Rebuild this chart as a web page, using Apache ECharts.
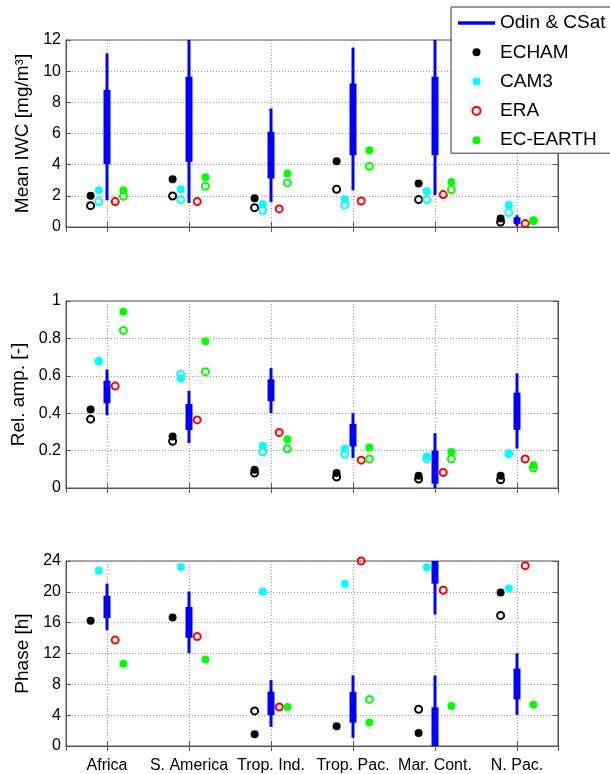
<!DOCTYPE html>
<html>
<head>
<meta charset="utf-8">
<script src="https://cdn.jsdelivr.net/npm/echarts@6/dist/echarts.min.js"></script>
<style>
  html, body { margin: 0; padding: 0; background: #fff; }
  #chart { width: 610px; height: 774px; }
</style>
</head>
<body>
<div id="chart"></div>
<script>
// regions along the x axis
var categories = ['Africa', 'S. America', 'Trop. Ind.', 'Trop. Pac.', 'Mar. Cont.', 'N. Pac.']

// y tick labels of the three panels
var iwcTicks = [0, 2, 4, 6, 8, 10, 12]
var ampTicks = [0, 0.2, 0.4, 0.6, 0.8, 1]
var phaseTicks = [0, 4, 8, 12, 16, 20, 24]

// Odin & CSat: [outer low, outer high, inner low, inner high] per region
var iwcObs = [[1.71, 11.14, 4.03, 8.79], [1.54, 12.6, 4.18, 9.64], [1.61, 7.61, 3.11, 6.11],
              [2.36, 11.51, 4.61, 9.21], [2.04, 12.6, 4.61, 9.64], [0.06, 0.75, 0.2, 0.62]]
var ampObs = [[0.389, 0.634, 0.453, 0.574], [0.24, 0.52, 0.31, 0.449], [0.4, 0.641, 0.464, 0.581],
              [0.16, 0.4, 0.222, 0.343], [0, 0.293, 0.023, 0.2], [0.211, 0.613, 0.311, 0.51]]
// phase wraps round 24 h: low > high means the range passes midnight
var phaseObs = [[15.02, 21.06, 16.6, 19.49], [12.04, 20.04, 14.04, 18.04], [2.47, 8.55, 4.0, 7.06],
                [1.06, 9.15, 3.02, 7.02], [17.06, 9.15, 21.06, 5.02], [4.04, 12.04, 6.04, 10.04]]

// mean IWC
var iwcEcham = [2.0, 3.06, 1.84, 4.22, 2.79, 0.54]
var iwcEchamOpen = [1.37, 1.99, 1.24, 2.42, 1.76, 0.32]
var iwcCam = [2.36, 2.42, 1.46, 1.78, 2.31, 1.41]
var iwcCamOpen = [1.63, 1.76, 1.07, 1.41, 1.76, 0.93]
var iwcEra = [1.63, 1.63, 1.16, 1.67, 2.08, 0.22]
var iwcEcEarth = [2.36, 3.19, 3.43, 4.93, 2.89, 0.41]
var iwcEcEarthOpen = [1.97, 2.61, 2.83, 3.9, 2.4, 0.4]

// relative amplitude
var ampEcham = [0.42, 0.275, 0.098, 0.08, 0.066, 0.066]
var ampEchamOpen = [0.368, 0.25, 0.08, 0.059, 0.048, 0.044]
var ampCam = [0.678, 0.585, 0.226, 0.21, 0.169, 0.183]
var ampCamOpen = [0.678, 0.607, 0.194, 0.18, 0.156, 0.183]
var ampEra = [0.545, 0.364, 0.297, 0.149, 0.083, 0.155]
var ampEcEarth = [0.943, 0.785, 0.261, 0.217, 0.192, 0.123]
var ampEcEarthOpen = [0.842, 0.622, 0.21, 0.155, 0.156, 0.107]

// phase
var phaseEcham = [16.26, 16.68, 1.53, 2.55, 1.7, 19.91]
var phaseEchamOpen = [null, null, 4.55, null, 4.77, 16.94]
var phaseCam = [22.72, 23.23, 20.04, 21.06, 23.19, 20.43]
var phaseCamOpen = [null, null, null, null, null, null]
var phaseEra = [13.74, 14.21, 5.06, 24.0, 20.21, 23.4]
var phaseEcEarth = [10.68, 11.23, 5.06, 3.06, 5.19, 5.36]
var phaseEcEarthOpen = [null, null, null, 6.04, null, null]

var FONT = 'Liberation Sans, Arial, Helvetica, sans-serif'
var AXIS_COLOR = '#555'

var panels = [
    { name: 'Mean IWC [mg/m³]', ticks: iwcTicks, obs: iwcObs,
      models: [iwcEcham, iwcEchamOpen, iwcCam, iwcCamOpen, iwcEra, iwcEcEarth, iwcEcEarthOpen],
      top: 40, height: 187 },
    { name: 'Rel. amp. [-]', ticks: ampTicks, obs: ampObs,
      models: [ampEcham, ampEchamOpen, ampCam, ampCamOpen, ampEra, ampEcEarth, ampEcEarthOpen],
      top: 301, height: 187 },
    { name: 'Phase [h]', ticks: phaseTicks, obs: phaseObs,
      models: [phaseEcham, phaseEchamOpen, phaseCam, phaseCamOpen, phaseEra, phaseEcEarth, phaseEcEarthOpen],
      top: 561, height: 188 }
]

// how each model array is drawn: name, colour, filled or open, x shift from the region
var modelStyles = [
    { name: 'ECHAM', color: '#000000', open: false, shift: -0.2 },
    { name: 'ECHAM (open)', color: '#000000', open: true, shift: -0.2 },
    { name: 'CAM3', color: '#00ffff', open: false, shift: -0.1 },
    { name: 'CAM3 (open)', color: '#00ffff', open: true, shift: -0.1 },
    { name: 'ERA', color: '#ff0000', open: true, shift: 0.1 },
    { name: 'EC-EARTH', color: '#00ff00', open: false, shift: 0.2 },
    { name: 'EC-EARTH (open)', color: '#00ff00', open: true, shift: 0.2 }
]

function makeRenderObs(lowEnd, highEnd) {
    return function (params, api) {
        var x = api.value(0)
        var parts = [[api.value(1), api.value(2), 3], [api.value(3), api.value(4), 7]]
        var children = []
        parts.forEach(function (p) {
            var segs = p[0] <= p[1] ? [[p[0], p[1]]] : [[p[0], highEnd], [lowEnd, p[1]]]
            segs.forEach(function (s) {
                var a = api.coord([x, s[1]])
                var b = api.coord([x, s[0]])
                children.push({
                    type: 'rect',
                    shape: { x: a[0] - p[2] / 2, y: a[1], width: p[2], height: b[1] - a[1] },
                    style: { fill: '#0000ff' }
                })
            })
        })
        return { type: 'group', children: children }
    }
}

var chart = echarts.init(document.getElementById('chart'), null, { renderer: 'canvas' })

var grid = []
var xAxis = []
var yAxis = []
var series = []

panels.forEach(function (panel, g) {
    var last = g === panels.length - 1
    var tMin = panel.ticks[0]
    var tMax = panel.ticks[panel.ticks.length - 1]
    var tStep = panel.ticks[1] - panel.ticks[0]

    grid.push({
        left: 66, top: panel.top, width: 492, height: panel.height,
        show: true, borderColor: AXIS_COLOR, borderWidth: 1, backgroundColor: 'rgba(0,0,0,0)'
    })

    xAxis.push({
        type: 'value', gridIndex: g, min: 0.5, max: categories.length + 0.5, splitNumber: categories.length,
        axisLine: { show: true, lineStyle: { color: AXIS_COLOR } },
        axisTick: { show: true, inside: true, length: 5, lineStyle: { color: AXIS_COLOR } },
        splitLine: { show: true, lineStyle: { color: '#999', type: [1, 2] } },
        axisLabel: {
            show: last, margin: 12, color: '#000', fontSize: 16, fontFamily: FONT,
            formatter: function (v) {
                return Math.abs(v - Math.round(v)) < 1e-6 && categories[Math.round(v) - 1] ? categories[Math.round(v) - 1] : ''
            }
        }
    })
    xAxis.push({
        type: 'value', gridIndex: g, position: 'top', min: 0.5, max: categories.length + 0.5, splitNumber: categories.length,
        axisLine: { show: true, lineStyle: { color: AXIS_COLOR } },
        axisTick: { show: true, inside: true, length: 5, lineStyle: { color: AXIS_COLOR } },
        splitLine: { show: false },
        axisLabel: { show: false }
    })

    yAxis.push({
        type: 'value', gridIndex: g, min: tMin, max: tMax, interval: tStep,
        name: panel.name, nameLocation: 'middle', nameGap: 31,
        nameTextStyle: { fontSize: 19, fontFamily: FONT, color: '#000' },
        axisLine: { show: true, lineStyle: { color: AXIS_COLOR } },
        axisTick: { show: true, inside: true, length: 5, lineStyle: { color: AXIS_COLOR } },
        splitLine: { show: true, lineStyle: { color: '#999', type: [1, 2] } },
        axisLabel: { margin: 5, color: '#000', fontSize: 16, fontFamily: FONT }
    })
    yAxis.push({
        type: 'value', gridIndex: g, position: 'right', min: tMin, max: tMax, interval: tStep,
        axisLine: { show: true, lineStyle: { color: AXIS_COLOR } },
        axisTick: { show: true, inside: true, length: 5, lineStyle: { color: AXIS_COLOR } },
        splitLine: { show: false },
        axisLabel: { show: false }
    })

    series.push({
        type: 'custom', name: 'Odin & CSat',
        xAxisIndex: g * 2, yAxisIndex: g * 2,
        clip: true,
        itemStyle: { color: '#0000ff' },
        renderItem: makeRenderObs(tMin, tMax),
        encode: { x: 0, y: [1, 2, 3, 4] },
        data: panel.obs.map(function (r, i) { return [i + 1, r[0], r[1], r[2], r[3]] })
    })

    panel.models.forEach(function (values, m) {
        var st = modelStyles[m]
        var pts = []
        values.forEach(function (v, i) {
            if (v !== null) pts.push([i + 1 + st.shift, v])
        })
        series.push({
            type: 'scatter', name: st.name,
            xAxisIndex: g * 2, yAxisIndex: g * 2,
            clip: false,
            symbol: 'circle',
            symbolSize: st.open ? 7 : 8,
            itemStyle: st.open
                ? { color: 'rgba(255,255,255,0)', borderColor: st.color, borderWidth: 2, opacity: 1 }
                : { color: st.color, opacity: 1 },
            emphasis: { disabled: true },
            data: pts
        })
    })
})

var option = {
    animation: false,
    backgroundColor: '#fff',
    textStyle: { fontFamily: FONT },
    legend: {
        orient: 'vertical', left: 451, top: 7, z: 20,
        itemWidth: 37, itemHeight: 8, itemGap: 9.3,
        padding: [6, 60, 3, 7],
        backgroundColor: '#fff', borderColor: '#333', borderWidth: 1,
        selectedMode: false,
        textStyle: { fontSize: 19, fontFamily: FONT, color: '#000', lineHeight: 20 },
        data: [
            { name: 'Odin & CSat', icon: 'path://M0,0H37V3.5H0Z', itemStyle: { color: '#0000ff' } },
            { name: 'ECHAM', icon: 'circle', itemStyle: { color: '#000000' } },
            { name: 'CAM3', icon: 'circle', itemStyle: { color: '#00ffff' } },
            { name: 'ERA', icon: 'circle', itemStyle: { color: '#ffffff', borderColor: '#ff0000', borderWidth: 2 } },
            { name: 'EC-EARTH', icon: 'circle', itemStyle: { color: '#00ff00' } }
        ]
    },
    grid: grid,
    xAxis: xAxis,
    yAxis: yAxis,
    series: series
}

chart.setOption(option)
</script>
</body>
</html>
